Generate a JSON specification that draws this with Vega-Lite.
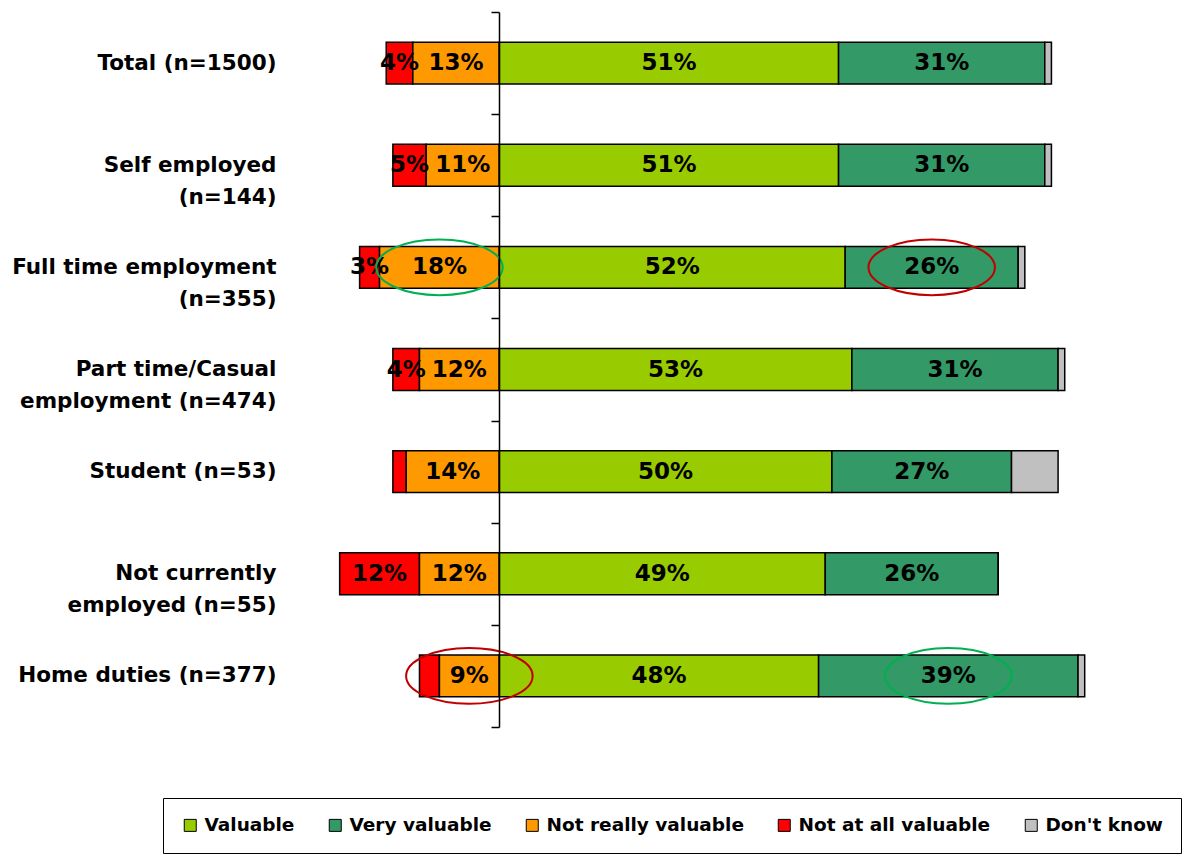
{
  "$schema": "https://vega.github.io/schema/vega-lite/v6.json",
  "autosize": {"type": "none"},
  "padding": {"left": 333, "top": 12, "right": 91, "bottom": 130},
  "width": 765,
  "height": 715,
  "background": "white",
  "config": {"view": {"stroke": null}, "font": "DejaVu Sans"},
  "data": {
    "values": [
      {"group": "Total (n=1500)", "response": "Not at all valuable", "value": -4},
      {"group": "Total (n=1500)", "response": "Not really valuable", "value": -13},
      {"group": "Total (n=1500)", "response": "Valuable", "value": 51},
      {"group": "Total (n=1500)", "response": "Very valuable", "value": 31},
      {"group": "Total (n=1500)", "response": "Don't know", "value": 1},
      {"group": "Self employed\n(n=144)", "response": "Not at all valuable", "value": -5},
      {"group": "Self employed\n(n=144)", "response": "Not really valuable", "value": -11},
      {"group": "Self employed\n(n=144)", "response": "Valuable", "value": 51},
      {"group": "Self employed\n(n=144)", "response": "Very valuable", "value": 31},
      {"group": "Self employed\n(n=144)", "response": "Don't know", "value": 1},
      {"group": "Full time employment\n(n=355)", "response": "Not at all valuable", "value": -3},
      {"group": "Full time employment\n(n=355)", "response": "Not really valuable", "value": -18, "note": "high"},
      {"group": "Full time employment\n(n=355)", "response": "Valuable", "value": 52},
      {"group": "Full time employment\n(n=355)", "response": "Very valuable", "value": 26, "note": "low"},
      {"group": "Full time employment\n(n=355)", "response": "Don't know", "value": 1},
      {"group": "Part time/Casual\nemployment (n=474)", "response": "Not at all valuable", "value": -4},
      {"group": "Part time/Casual\nemployment (n=474)", "response": "Not really valuable", "value": -12},
      {"group": "Part time/Casual\nemployment (n=474)", "response": "Valuable", "value": 53},
      {"group": "Part time/Casual\nemployment (n=474)", "response": "Very valuable", "value": 31},
      {"group": "Part time/Casual\nemployment (n=474)", "response": "Don't know", "value": 1},
      {"group": "Student (n=53)", "response": "Not at all valuable", "value": -2, "showLabel": false},
      {"group": "Student (n=53)", "response": "Not really valuable", "value": -14},
      {"group": "Student (n=53)", "response": "Valuable", "value": 50},
      {"group": "Student (n=53)", "response": "Very valuable", "value": 27},
      {"group": "Student (n=53)", "response": "Don't know", "value": 7},
      {"group": "Not currently\nemployed (n=55)", "response": "Not at all valuable", "value": -12},
      {"group": "Not currently\nemployed (n=55)", "response": "Not really valuable", "value": -12},
      {"group": "Not currently\nemployed (n=55)", "response": "Valuable", "value": 49},
      {"group": "Not currently\nemployed (n=55)", "response": "Very valuable", "value": 26},
      {"group": "Not currently\nemployed (n=55)", "response": "Don't know", "value": 0},
      {"group": "Home duties (n=377)", "response": "Not at all valuable", "value": -3, "showLabel": false},
      {"group": "Home duties (n=377)", "response": "Not really valuable", "value": -9, "note": "low"},
      {"group": "Home duties (n=377)", "response": "Valuable", "value": 48},
      {"group": "Home duties (n=377)", "response": "Very valuable", "value": 39, "note": "high"},
      {"group": "Home duties (n=377)", "response": "Don't know", "value": 1}
    ]
  },
  "transform": [
    {"calculate": "indexof(['Valuable', 'Very valuable', 'Not really valuable', 'Not at all valuable', \"Don't know\"], datum.response)", "as": "rank"}
  ],
  "encoding": {
    "y": {
      "field": "group",
      "type": "nominal",
      "sort": null,
      "scale": {"paddingInner": 0, "paddingOuter": 0},
      "axis": {
        "title": null,
        "orient": "left",
        "offset": -166,
        "grid": false,
        "domain": true,
        "domainColor": "black",
        "domainWidth": 1.5,
        "ticks": true,
        "tickBand": "extent",
        "tickSize": 8,
        "tickColor": "black",
        "tickWidth": 1.5,
        "labelPadding": 215,
        "labelFont": "DejaVu Sans",
        "labelFontWeight": "bold",
        "labelFontSize": 21.5,
        "labelColor": "black",
        "labelLimit": 400,
        "labelLineHeight": 32,
        "labelExpr": "split(datum.label, '\\n')",
        "zindex": 1
      }
    },
    "x": {
      "field": "value",
      "type": "quantitative",
      "stack": "zero",
      "scale": {"domain": [-25, 90], "nice": false},
      "axis": null
    },
    "order": {"field": "rank", "type": "quantitative"}
  },
  "layer": [
    {
      "mark": {"type": "bar", "height": {"band": 0.41}, "stroke": "black", "strokeWidth": 1.5},
      "encoding": {
        "color": {
          "field": "response",
          "type": "nominal",
          "sort": ["Valuable", "Very valuable", "Not really valuable", "Not at all valuable", "Don't know"],
          "scale": {
            "domain": ["Valuable", "Very valuable", "Not really valuable", "Not at all valuable", "Don't know"],
            "range": ["#99CC00", "#339966", "#FF9900", "#FF0000", "#C0C0C0"]
          },
          "legend": {
            "title": null,
            "orient": "none",
            "legendX": -170,
            "legendY": 786,
            "direction": "horizontal",
            "columns": 5,
            "symbolType": "square",
            "symbolSize": 144,
            "symbolStrokeColor": "black",
            "symbolStrokeWidth": 1,
            "symbolOpacity": 1,
            "labelFont": "DejaVu Sans",
            "labelFontWeight": "bold",
            "labelFontSize": 18.5,
            "labelColor": "black",
            "labelOffset": 5,
            "labelLimit": 300,
            "columnPadding": 31,
            "padding": 18,
            "strokeColor": "black"
          }
        }
      }
    },
    {
      "transform": [
        {"calculate": "datum.response == \"Don't know\" || datum.showLabel === false ? '' : abs(datum.value) + '%'", "as": "label"}
      ],
      "mark": {"type": "text", "font": "DejaVu Sans", "fontWeight": "bold", "fontSize": 23, "color": "black", "baseline": "middle", "align": "center"},
      "encoding": {
        "x": {"field": "value", "type": "quantitative", "stack": "zero", "bandPosition": 0.5},
        "detail": {"field": "response"},
        "text": {"field": "label"}
      }
    },
    {
      "mark": {"type": "point", "shape": "M-1,0 A1,0.44 0 1,1 1,0 A1,0.44 0 1,1 -1,0 Z", "size": 16000, "filled": false, "strokeWidth": 2},
      "encoding": {
        "x": {"field": "value", "type": "quantitative", "stack": "zero", "bandPosition": 0.5},
        "detail": {"field": "response"},
        "stroke": {"condition": {"test": "datum.note == 'high'", "value": "#00B050"}, "value": "#C00000"},
        "opacity": {"condition": {"test": "isValid(datum.note)", "value": 1}, "value": 0}
      }
    }
  ]
}
